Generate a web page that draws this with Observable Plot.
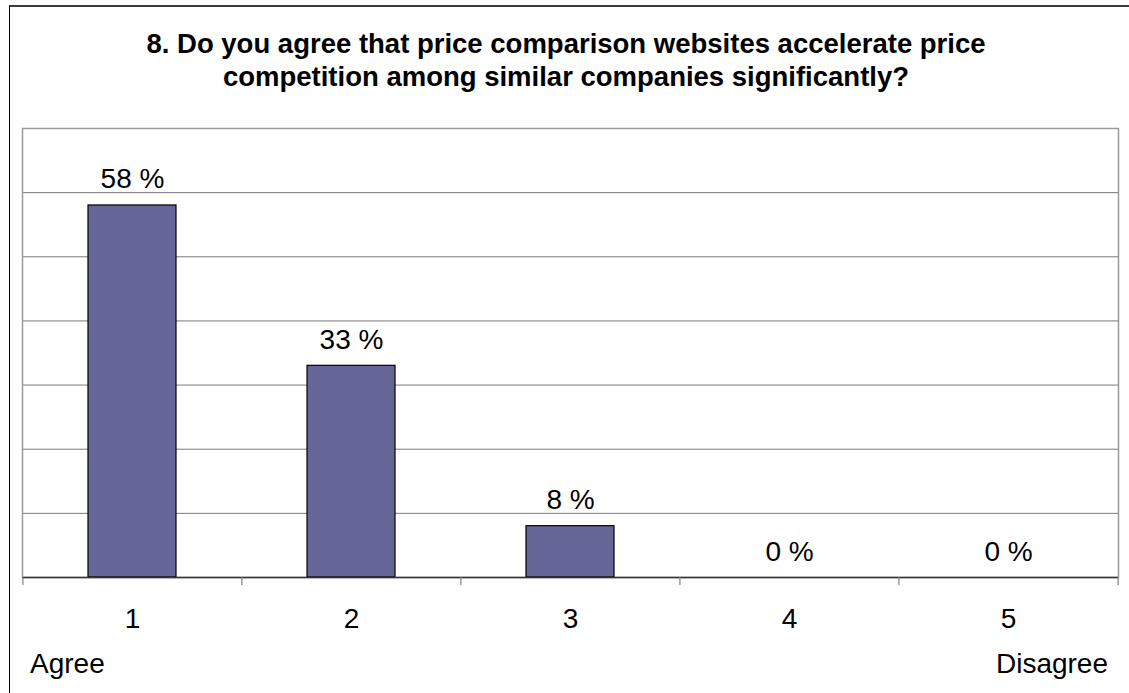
<!DOCTYPE html>
<html><head><meta charset="utf-8">
<script src="https://cdn.jsdelivr.net/npm/d3@7"></script>
<script src="https://cdn.jsdelivr.net/npm/@observablehq/plot@0.6"></script>
<style>
html,body{margin:0;padding:0;background:#fff;overflow:hidden;}
#wrap{position:relative;width:1129px;height:693px;overflow:hidden;font-family:"Liberation Sans",Arial,sans-serif;color:#000;}
#border{position:absolute;left:9px;top:5px;width:1300px;height:900px;border-top:2px solid #3a3a3a;border-left:1px solid #000;}
#title{position:relative;height:73px;padding-top:27px;padding-left:3px;text-align:center;font-weight:bold;font-size:27.5px;line-height:33px;white-space:nowrap;}
#chart svg{display:block;position:relative;}
#foot{position:relative;display:flex;justify-content:space-between;font-size:28px;line-height:33px;padding:7px 21px 0 30px;}
</style></head>
<body>
<div id="wrap">
  <div id="border"></div>
  <div id="title"></div>
  <div id="chart"></div>
  <div id="foot"></div>
</div>
<script>
const titleLines = ["8. Do you agree that price comparison websites accelerate price", "competition among similar companies significantly?"];
const categories = ["1", "2", "3", "4", "5"];
const percents = [58, 33, 8, 0, 0];
const yTicks = [0, 10, 20, 30, 40, 50, 60, 70];
const endLabels = ["Agree", "Disagree"];

const data = categories.map((c, i) => ({cat: c, value: percents[i]}));

document.getElementById("title").innerHTML = titleLines.join("<br>");
const foot = document.getElementById("foot");
endLabels.forEach(t => { const s = document.createElement("span"); s.textContent = t; foot.appendChild(s); });

const W = 1129, H = 540, mL = 22, mR = 11, mT = 28, mB = 63;
const step = (W - mL - mR) / categories.length;

const chart = Plot.plot({
  width: W, height: H,
  marginLeft: mL, marginRight: mR, marginTop: mT, marginBottom: mB,
  style: {fontFamily: "'Liberation Sans', Arial, sans-serif", background: "transparent", color: "#000"},
  x: {domain: categories, paddingInner: 0.6, paddingOuter: 0.3, axis: null, label: null},
  y: {domain: [0, 70], axis: null},
  marks: [
    Plot.gridY(yTicks, {stroke: "#7a7a7a", strokeOpacity: 1, strokeWidth: 1}),
    Plot.frame({stroke: "#9a9a9a", strokeWidth: 1.5}),
    Plot.barY(data, {x: "cat", y: "value", fill: "#666699", stroke: "#000", strokeWidth: 1.2}),
    Plot.ruleY([0], {stroke: "#333", strokeWidth: 1.5}),
    Plot.ruleX(categories, {x: d => d, y1: 0, y2: 0, dx: -step / 2, insetBottom: -8, stroke: "#808080", strokeWidth: 1.2}),
    Plot.ruleX(categories.slice(-1), {x: d => d, y1: 0, y2: 0, dx: step / 2, insetBottom: -8, stroke: "#808080", strokeWidth: 1.2}),
    Plot.axisX({tickSize: 0, tickPadding: 31, fontSize: 28, fill: "#000", label: null}),
    Plot.text(data, {x: "cat", y: "value", text: d => d.value + " %", dy: -17, lineAnchor: "bottom", fontSize: 28, fill: "#000"})
  ]
});
document.getElementById("chart").appendChild(chart);
</script>
</body></html>
